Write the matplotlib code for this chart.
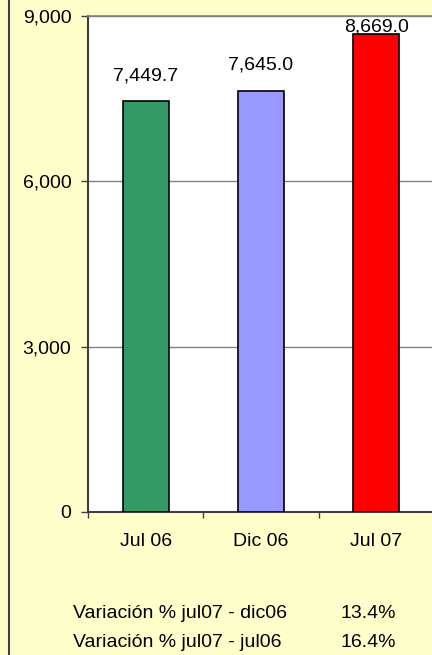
import matplotlib
matplotlib.use("Agg")
import matplotlib.pyplot as plt
from matplotlib.lines import Line2D

plt.rcParams["font.family"] = ["Liberation Sans", "DejaVu Sans"]

categories = ["Jul 06", "Dic 06", "Jul 07"]
values = [7449.7, 7645.0, 8669.0]
colors = ["#339966", "#9999FF", "#FF0000"]
yticks = [0, 3000, 6000, 9000]
notes = ["Variación % jul07 - dic06", "Variación % jul07 - jul06"]
note_values = ["13.4%", "16.4%"]

W, H = 432, 655
fs = 14
fig = plt.figure(figsize=(W / 100, H / 100), dpi=100)
fig.patch.set_facecolor("#FFFFCC")

ax = fig.add_axes([88 / W, 1 - 512 / H, 346 / W, 496 / H])
ax.set_facecolor("white")
x = list(range(len(categories)))
ax.bar(x, values, width=0.4, color=colors, edgecolor="black", linewidth=1.2, zorder=3)
ax.set_xlim(-0.5, 2.5)
ax.set_ylim(0, 9000)

ax.set_yticks(yticks)
ax.set_yticklabels([f"{v:,}" for v in yticks])
ax.tick_params(axis="y", length=5, width=1, color="#404040", pad=7, labelsize=fs)
ax.yaxis.grid(True, color="#808080", linewidth=1)
ax.set_axisbelow(True)

ax.set_xticks(x)
ax.set_xticklabels(categories)
ax.set_xticks([-0.5, 0.5, 1.5, 2.5], minor=True)
ax.tick_params(axis="x", which="major", length=0, pad=15, labelsize=fs)
ax.tick_params(axis="x", which="minor", length=4, width=1, color="#404040")

for side in ["left", "bottom"]:
    ax.spines[side].set_color("#404040")
    ax.spines[side].set_linewidth(1.5)
ax.spines["top"].set_color("#808080")
ax.spines["top"].set_linewidth(1.2)
ax.spines["right"].set_visible(False)

# value labels: ~21px above the bar, pushed down if it would leave the plot
px_per_unit = 496 / 9000
for xi, v in zip(x, values):
    room = (9000 - v) * px_per_unit
    gap = min(21, room - 16)
    ax.annotate(f"{v:,.1f}", (xi, v), xytext=(0, gap * 0.72), textcoords="offset points",
                ha="center", va="baseline", fontsize=fs, annotation_clip=False)

# left border line of the box
fig.add_artist(Line2D([9 / W, 9 / W], [0, 1], transform=fig.transFigure,
                      color="#404040", linewidth=1.5))

for i, (label, val) in enumerate(zip(notes, note_values)):
    yb = 1 - (618 + i * 29) / H
    fig.text(73 / W, yb, label, ha="left", va="baseline", fontsize=fs)
    fig.text(396 / W, yb, val, ha="right", va="baseline", fontsize=fs)

fig.savefig("out.png", dpi=100, facecolor=fig.get_facecolor())
